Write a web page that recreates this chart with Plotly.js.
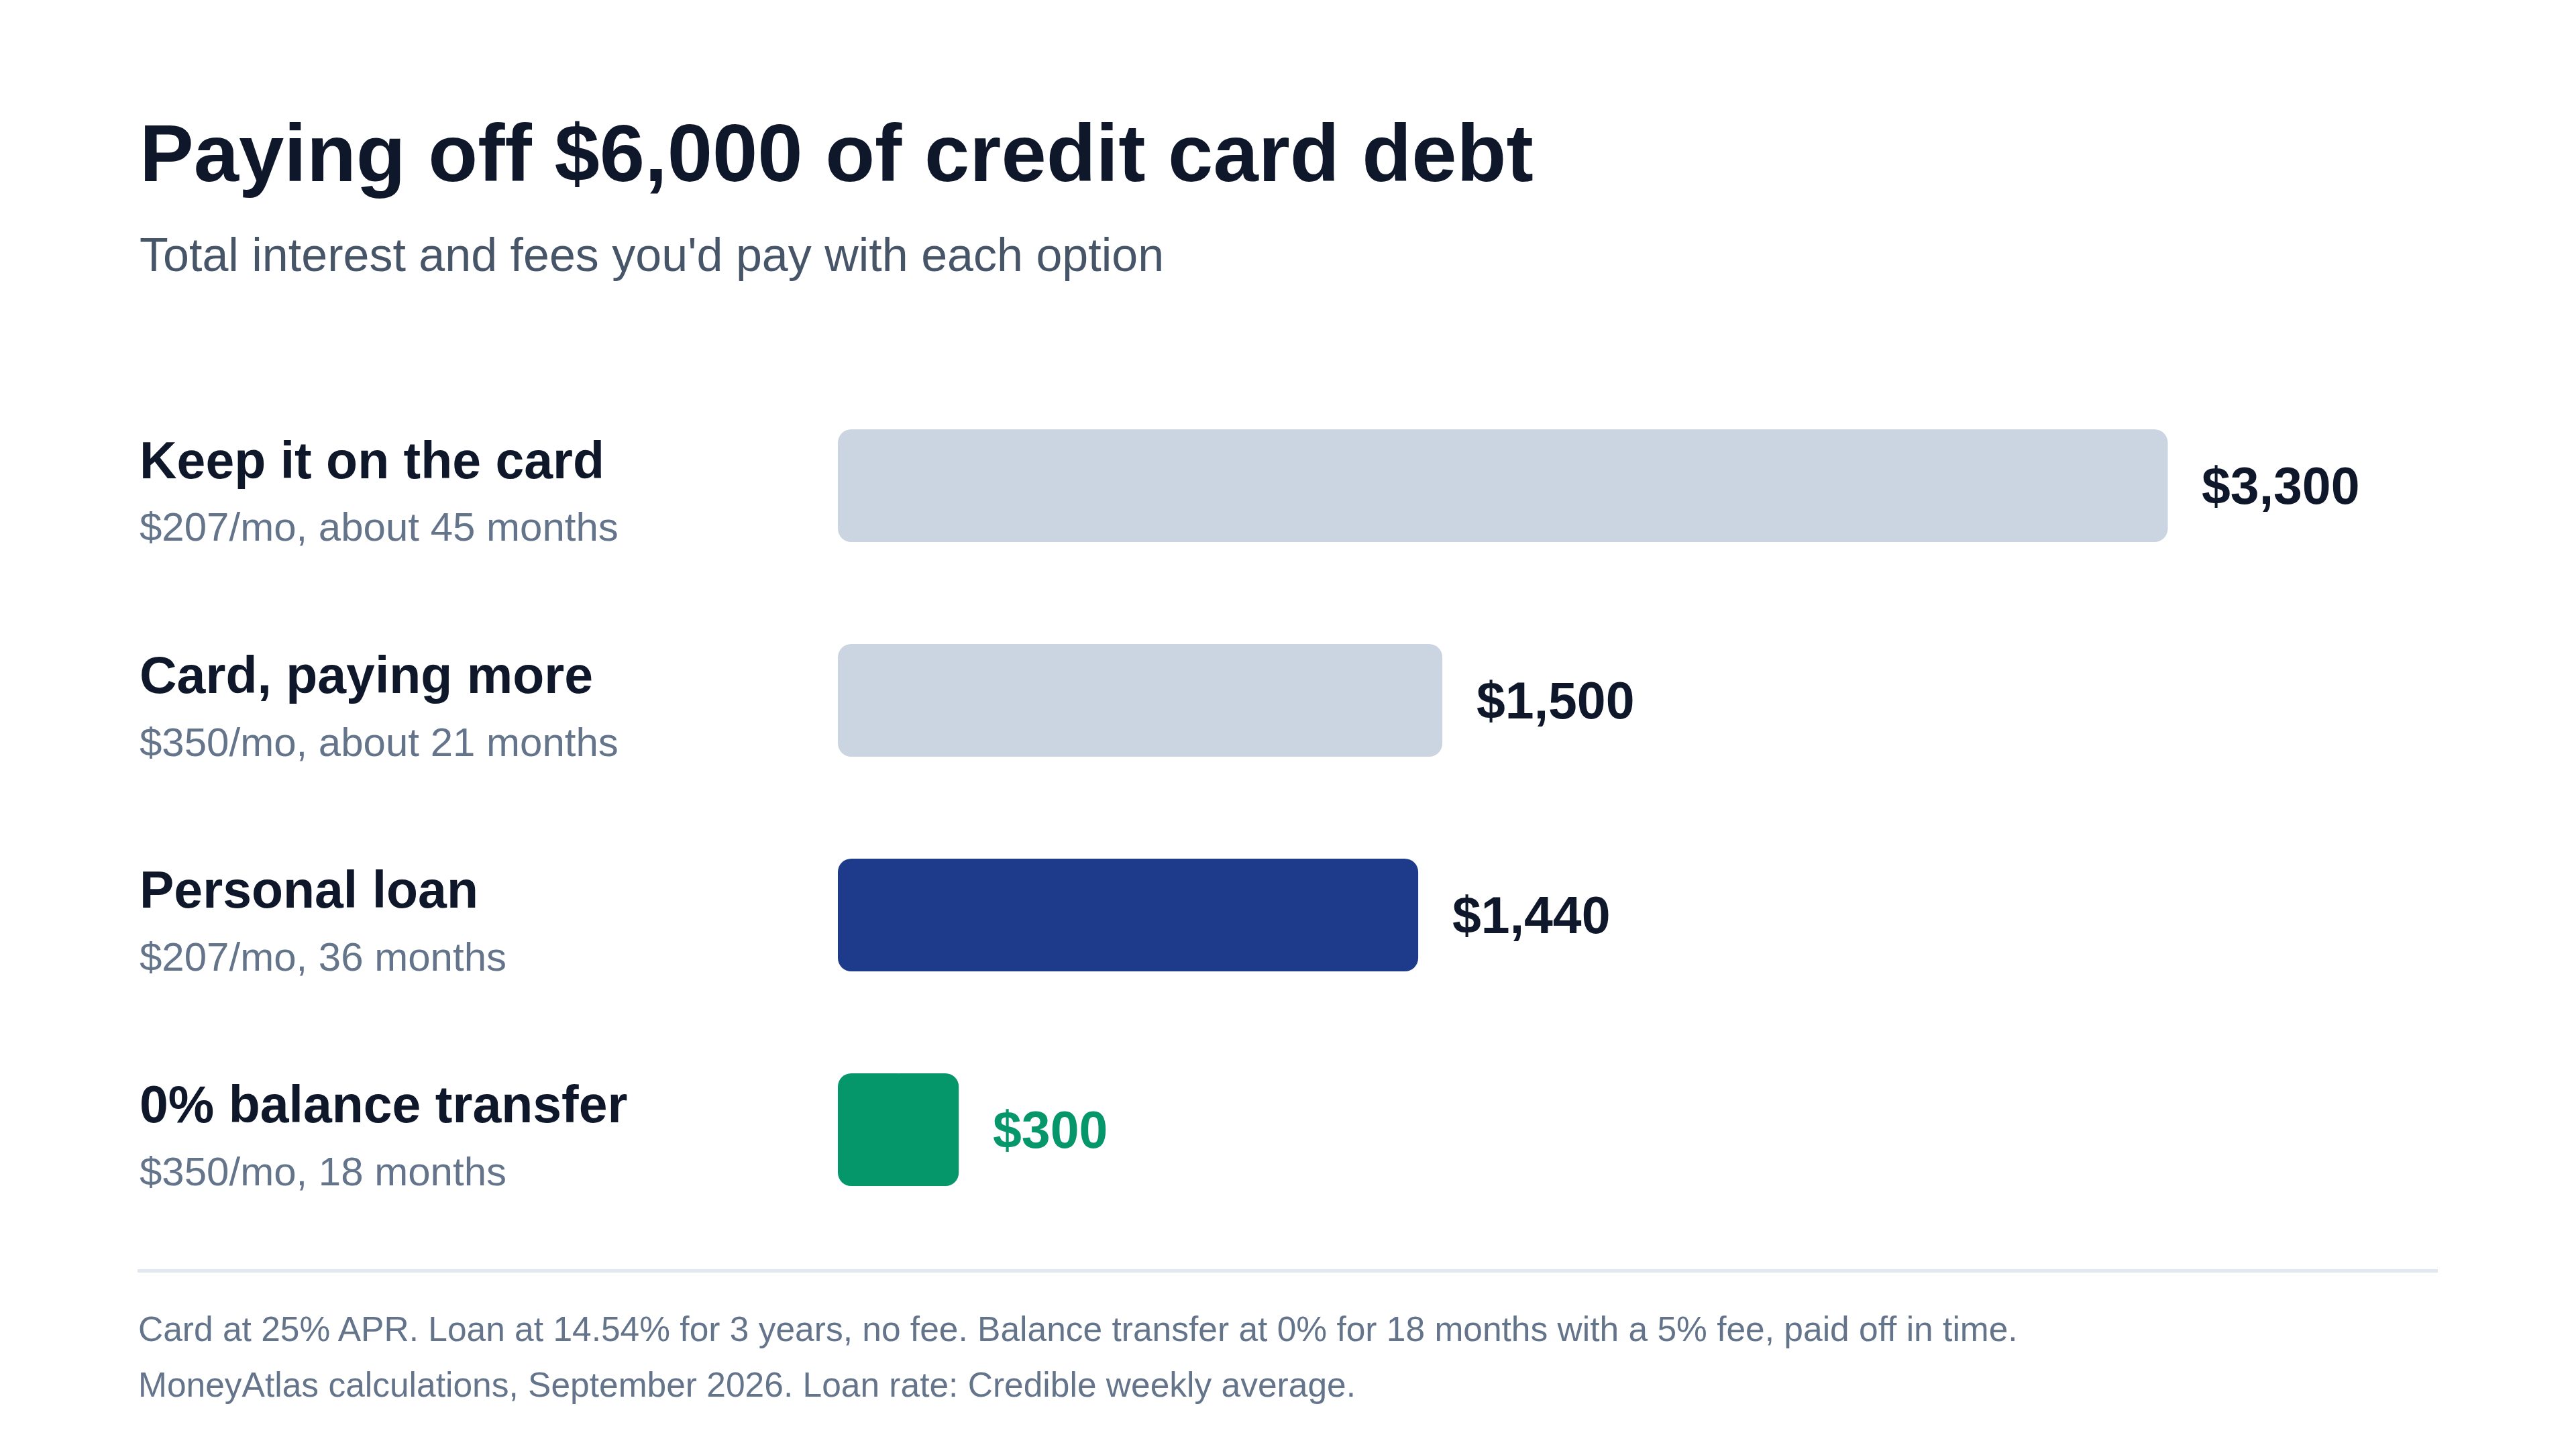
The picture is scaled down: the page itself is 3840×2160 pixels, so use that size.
<!DOCTYPE html>
<html>
<head>
<meta charset="utf-8">
<script src="https://cdn.plot.ly/plotly-3.0.1.min.js"></script>
<style>
  html, body { margin: 0; padding: 0; background: #ffffff; }
  #debtChart { width: 3840px; height: 2160px; }
</style>
</head>
<body>
<div id="debtChart"></div>
<script>
var options = ['Keep it on the card', 'Card, paying more', 'Personal loan', '0% balance transfer'];
var details = ['$207/mo, about 45 months', '$350/mo, about 21 months', '$207/mo, 36 months', '$350/mo, 18 months'];
var costs = [3300, 1500, 1440, 300];
var costLabels = ['$3,300', '$1,500', '$1,440', '$300'];

var chartTitle = 'Paying off $6,000 of credit card debt';
var chartSubtitle = "Total interest and fees you'd pay with each option";
var notes = [
  'Card at 25% APR. Loan at 14.54% for 3 years, no fee. Balance transfer at 0% for 18 months with a 5% fee, paid off in time.',
  'MoneyAtlas calculations, September 2026. Loan rate: Credible weekly average.'
];

var barColors = ['#cbd5e1', '#cbd5e1', '#1e3a8a', '#059669'];
var valueColors = ['#0f172a', '#0f172a', '#0f172a', '#059669'];

var W = 3840, H = 2160;
var FONT = "'Liberation Sans', Arial, Helvetica, sans-serif";
var px = function (x) { return x / W; };
var py = function (y) { return 1 - y / H; };

// each bar is drawn as two overlapping halves so both ends get rounded corners
var rightHalf = {
  type: 'bar',
  orientation: 'h',
  y: options,
  base: costs.map(function (v) { return v * 0.4; }),
  x: costs.map(function (v) { return v * 0.6; }),
  width: 0.525,
  marker: { color: barColors, cornerradius: 20, line: { width: 0 } },
  hoverinfo: 'skip'
};
var leftHalf = {
  type: 'bar',
  orientation: 'h',
  y: options,
  base: costs.map(function (v) { return v * 0.6; }),
  x: costs.map(function (v) { return -v * 0.6; }),
  width: 0.525,
  marker: { color: barColors, cornerradius: 20, line: { width: 0 } },
  hoverinfo: 'skip'
};

var annotations = [];

annotations.push({
  xref: 'paper', yref: 'paper', x: px(206), y: py(228),
  xanchor: 'left', yanchor: 'middle', showarrow: false,
  text: chartTitle,
  font: { family: FONT, size: 121, color: '#0f172a', weight: 'bold' }
});
annotations.push({
  xref: 'paper', yref: 'paper', x: px(206), y: py(380),
  xanchor: 'left', yanchor: 'middle', showarrow: false,
  text: chartSubtitle,
  font: { family: FONT, size: 70, color: '#475569' }
});

for (var i = 0; i < options.length; i++) {
  annotations.push({
    xref: 'paper', yref: 'y', x: px(206), y: options[i], yshift: 38,
    xanchor: 'left', yanchor: 'middle', showarrow: false,
    text: '<b>' + options[i] + '</b>',
    font: { family: FONT, size: 77, color: '#0f172a' }
  });
  annotations.push({
    xref: 'paper', yref: 'y', x: px(206), y: options[i], yshift: -62,
    xanchor: 'left', yanchor: 'middle', showarrow: false,
    text: details[i],
    font: { family: FONT, size: 60, color: '#64748b' }
  });
  annotations.push({
    xref: 'x', yref: 'y', x: costs[i], y: options[i], xshift: 49,
    xanchor: 'left', yanchor: 'middle', showarrow: false,
    text: '<b>' + costLabels[i] + '</b>',
    font: { family: FONT, size: 77, color: valueColors[i] }
  });
}

annotations.push({
  xref: 'paper', yref: 'paper', x: px(204), y: py(1981),
  xanchor: 'left', yanchor: 'middle', showarrow: false,
  text: notes[0],
  font: { family: FONT, size: 51.5, color: '#64748b' }
});
annotations.push({
  xref: 'paper', yref: 'paper', x: px(204), y: py(2064),
  xanchor: 'left', yanchor: 'middle', showarrow: false,
  text: notes[1],
  font: { family: FONT, size: 51.5, color: '#64748b' }
});

var layout = {
  width: W,
  height: H,
  margin: { l: 0, r: 0, t: 0, b: 0, pad: 0 },
  paper_bgcolor: '#ffffff',
  plot_bgcolor: '#ffffff',
  showlegend: false,
  barmode: 'overlay',
  xaxis: {
    domain: [px(1249), px(3634)],
    range: [0, 3970],
    visible: false,
    fixedrange: true
  },
  yaxis: {
    domain: [py(1844), py(564)],
    type: 'category',
    categoryorder: 'array',
    categoryarray: options,
    range: [3.5, -0.5],
    visible: false,
    fixedrange: true
  },
  shapes: [{
    type: 'line', xref: 'paper', yref: 'paper',
    x0: px(205), x1: px(3634), y0: py(1894.5), y1: py(1894.5),
    line: { color: '#e2e8f0', width: 5 }
  }],
  annotations: annotations
};

Plotly.newPlot('debtChart', [rightHalf, leftHalf], layout, { displayModeBar: false, staticPlot: true });
</script>
</body>
</html>
